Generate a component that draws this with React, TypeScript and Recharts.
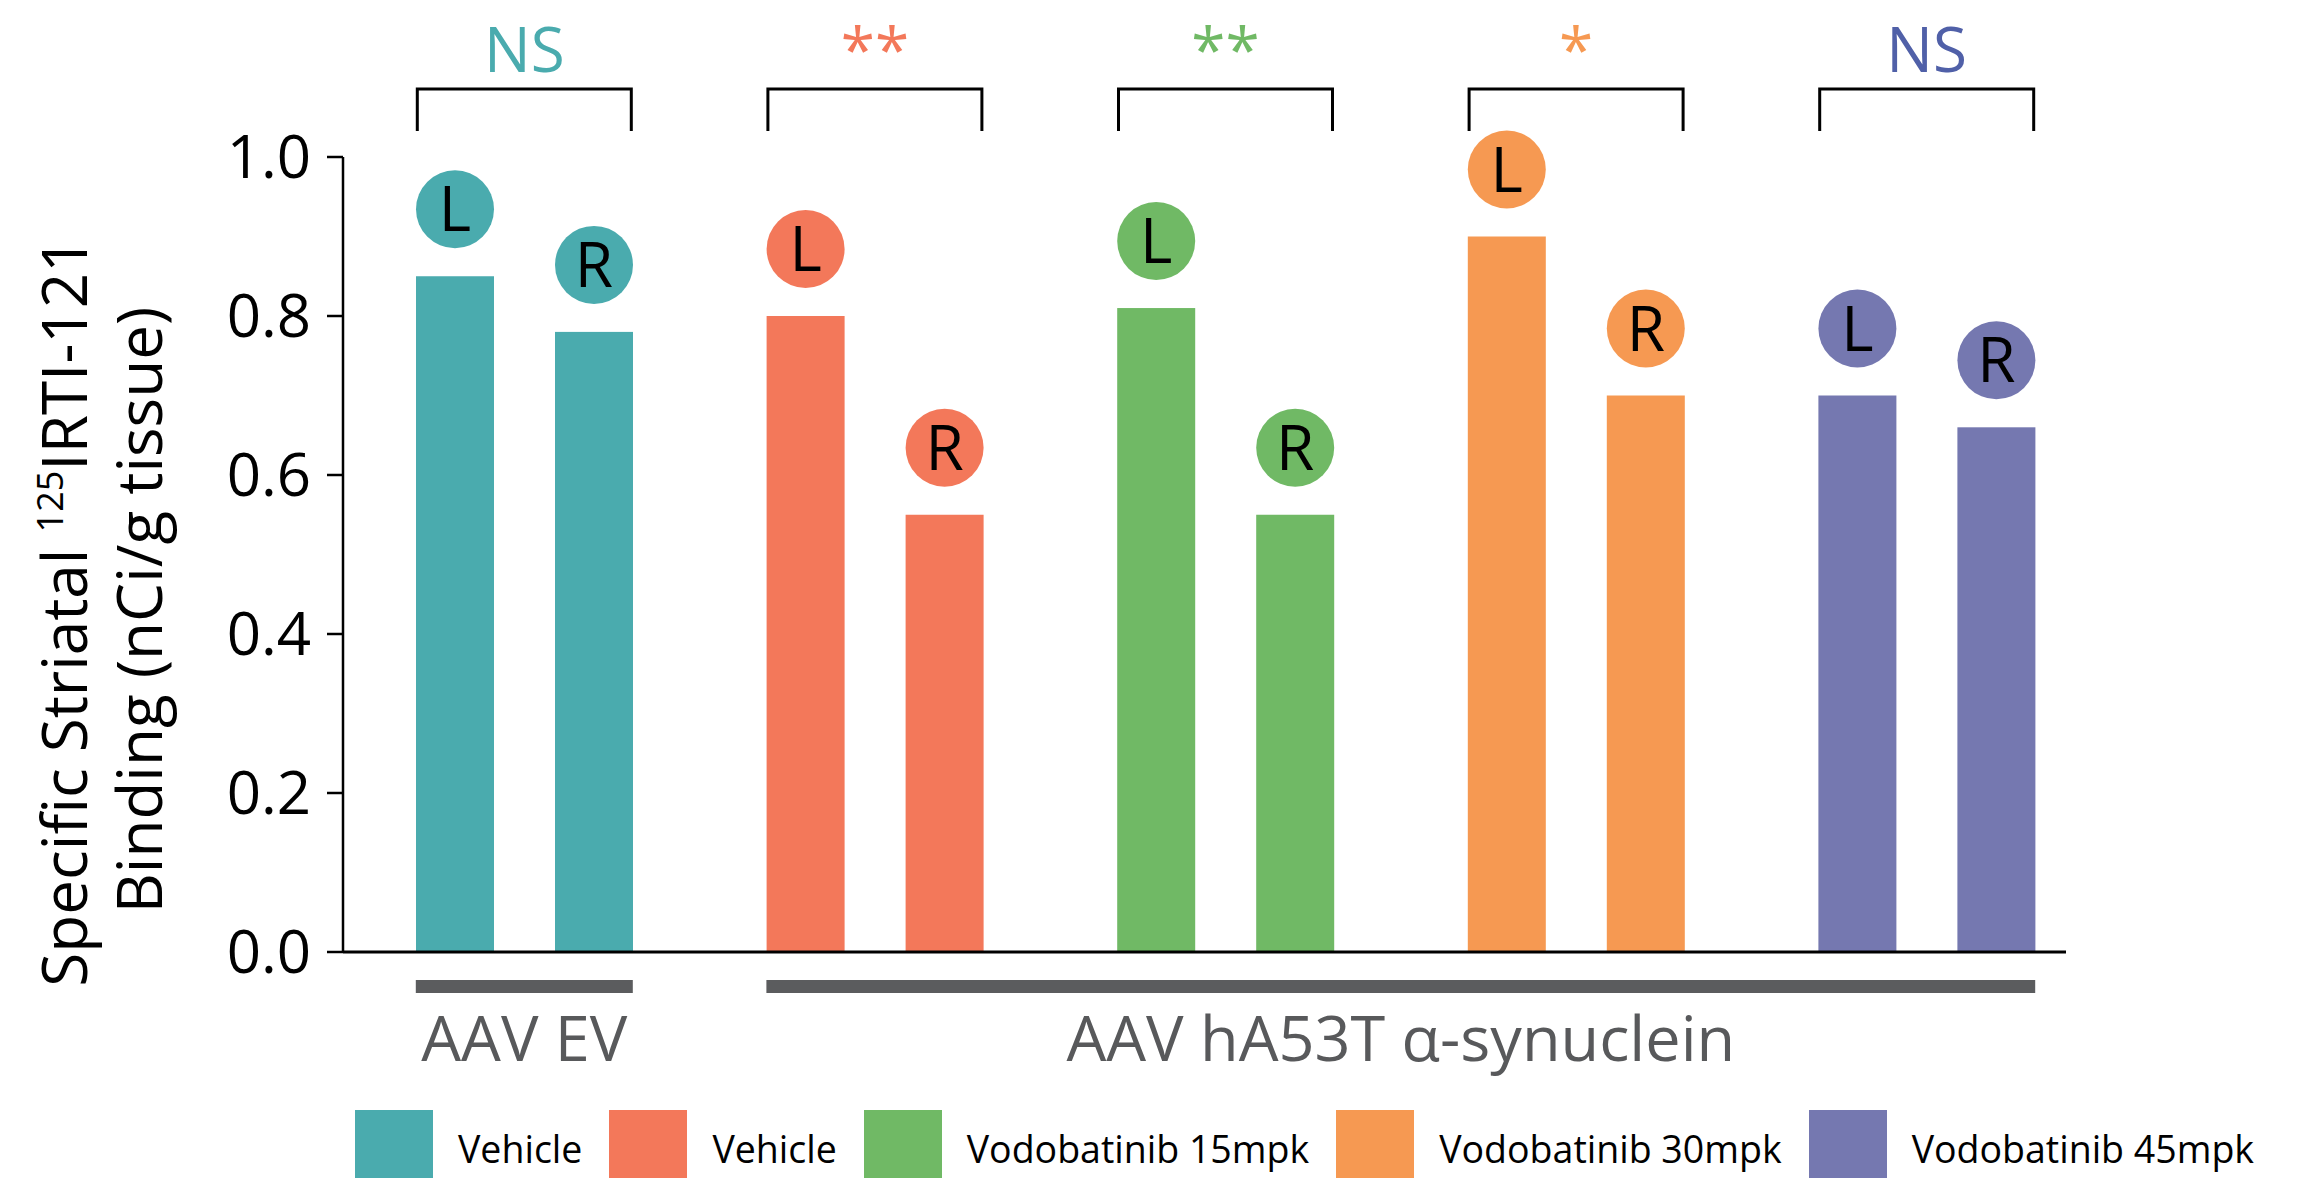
import { Bar, BarChart, Label, Legend, XAxis, YAxis } from 'recharts';

const groups = ['EV Vehicle', 'A53T Vehicle', 'Vodobatinib 15mpk', 'Vodobatinib 30mpk', 'Vodobatinib 45mpk'];
const legendLabels = ['Vehicle', 'Vehicle', 'Vodobatinib 15mpk', 'Vodobatinib 30mpk', 'Vodobatinib 45mpk'];
const leftValues = [0.85, 0.8, 0.81, 0.9, 0.7];
const rightValues = [0.78, 0.55, 0.55, 0.7, 0.66];
const significance = ['NS', '**', '**', '*', 'NS'];
const virusOfGroup = [0, 1, 1, 1, 1];
const virusLabels = ['AAV EV', 'AAV hA53T α-synuclein'];
const yTicks = [0, 0.2, 0.4, 0.6, 0.8, 1.0];

const colors = ['#4aabae', '#f3785a', '#70b965', '#f69952', '#7578b0'];
const sigColors = ['#4aabae', '#f3785a', '#70b965', '#f69952', '#5060a8'];

const data = groups.map((group, i) => ({ group, left: leftValues[i], right: rightValues[i] }));

const FONT = '"Open Sans", sans-serif';
const BAR = 78;
const GAP = 61;

// bar + L/R bubble above it
const sideShape = (letter: string) => (props: any) => {
  const { x, y, width, height, payload } = props;
  let i = groups.indexOf(payload?.group);
  if (i < 0) i = props.index ?? 0;
  const cx = x + width / 2;
  const cy = y - 67;
  return (
    <g>
      <rect x={x} y={y} width={width} height={height} fill={colors[i]} />
      <circle cx={cx} cy={cy} r={39} fill={colors[i]} />
      <text x={cx} y={cy + 22} textAnchor="middle" fontSize={62} fontFamily={FONT} fill="#000">
        {letter}
      </text>
    </g>
  );
};

const TopTick = (props: any) => {
  const { x, payload } = props;
  const i = payload.index;
  const half = 107;
  return (
    <g>
      <text x={x} y={72} textAnchor="middle" fontSize={62} fill={sigColors[i]} fontFamily={FONT}>
        {significance[i]}
      </text>
      <path d={`M${x - half},131 V89 H${x + half} V131`} fill="none" stroke="#000" strokeWidth={3} />
    </g>
  );
};

// one grey bar + label per virus group, drawn from the group's first category
const BottomTick = (props: any) => {
  const { x, payload } = props;
  const i = payload.index;
  const half = payload.offset || 175;
  const pairHalf = BAR + GAP / 2;
  const g = virusOfGroup[i];
  const first = i === 0 || virusOfGroup[i - 1] !== g;
  if (!first) return <g />;
  const count = virusOfGroup.filter((v) => v === g).length;
  const left = x - pairHalf;
  const right = x + (count - 1) * 2 * half + pairHalf;
  return (
    <g>
      <rect x={left} y={980} width={right - left} height={13} fill="#5b5c5e" />
      <text x={(left + right) / 2} y={1061} textAnchor="middle" fontSize={63} fill="#58595b" fontFamily={FONT}>
        {virusLabels[g]}
      </text>
    </g>
  );
};

const renderYLabel = () => (
  <g transform="rotate(-90)">
    <text x={-612} y={87} textAnchor="middle" fontSize={62} fontFamily={FONT} fill="#000">
      Specific Striatal{' '}
      <tspan fontSize={36} dy={-24}>125</tspan>
      <tspan dy={24}>IRTI-121</tspan>
    </text>
    <text x={-610} y={162} textAnchor="middle" fontSize={62} fontFamily={FONT} fill="#000">
      Binding (nCi/g tissue)
    </text>
  </g>
);

const renderLegend = () => (
  <div style={{ display: 'flex', alignItems: 'center', height: 68, fontFamily: FONT }}>
    {legendLabels.map((label, i) => (
      <div key={i} style={{ display: 'flex', alignItems: 'center', marginRight: 27 }}>
        <div style={{ width: 78, height: 68, background: colors[i], marginRight: 25 }} />
        <span style={{ fontSize: 37.5, color: '#000', paddingTop: 8, whiteSpace: 'nowrap' }}>{label}</span>
      </div>
    ))}
  </div>
);

export default function App() {
  return (
    <div style={{ position: 'absolute', left: 0, top: 0, background: '#fff' }}>
      <BarChart
        width={2300}
        height={1178}
        data={data}
        barGap={GAP}
        margin={{ top: 0, right: 234, bottom: 0, left: 0 }}
      >
        <XAxis
          xAxisId="top"
          orientation="top"
          dataKey="group"
          height={157}
          padding={{ left: 6, right: -36 }}
          axisLine={false}
          tickLine={false}
          interval={0}
          tick={<TopTick />}
        />
        <XAxis
          xAxisId="bottom"
          dataKey="group"
          height={158}
          padding={{ left: 6, right: -36 }}
          axisLine={{ stroke: '#000', strokeWidth: 3 }}
          tickLine={false}
          interval={0}
          tick={<BottomTick />}
        />
        <YAxis
          width={343}
          domain={[0, 1]}
          ticks={yTicks}
          interval={0}
          tickFormatter={(v: number) => v.toFixed(1)}
          tick={{ fontSize: 60, fill: '#000', fontFamily: FONT }}
          tickSize={16}
          tickMargin={16}
          axisLine={{ stroke: '#000', strokeWidth: 2.5 }}
          tickLine={{ stroke: '#000', strokeWidth: 2.5 }}
          label={<Label content={renderYLabel} />}
        />
        <Legend verticalAlign="bottom" align="left" content={renderLegend} wrapperStyle={{ left: 355, bottom: 0, width: 'auto' }} />
        <Bar xAxisId="bottom" dataKey="left" barSize={BAR} isAnimationActive={false} shape={sideShape('L')} />
        <Bar xAxisId="bottom" dataKey="right" barSize={BAR} isAnimationActive={false} shape={sideShape('R')} />
      </BarChart>
    </div>
  );
}
